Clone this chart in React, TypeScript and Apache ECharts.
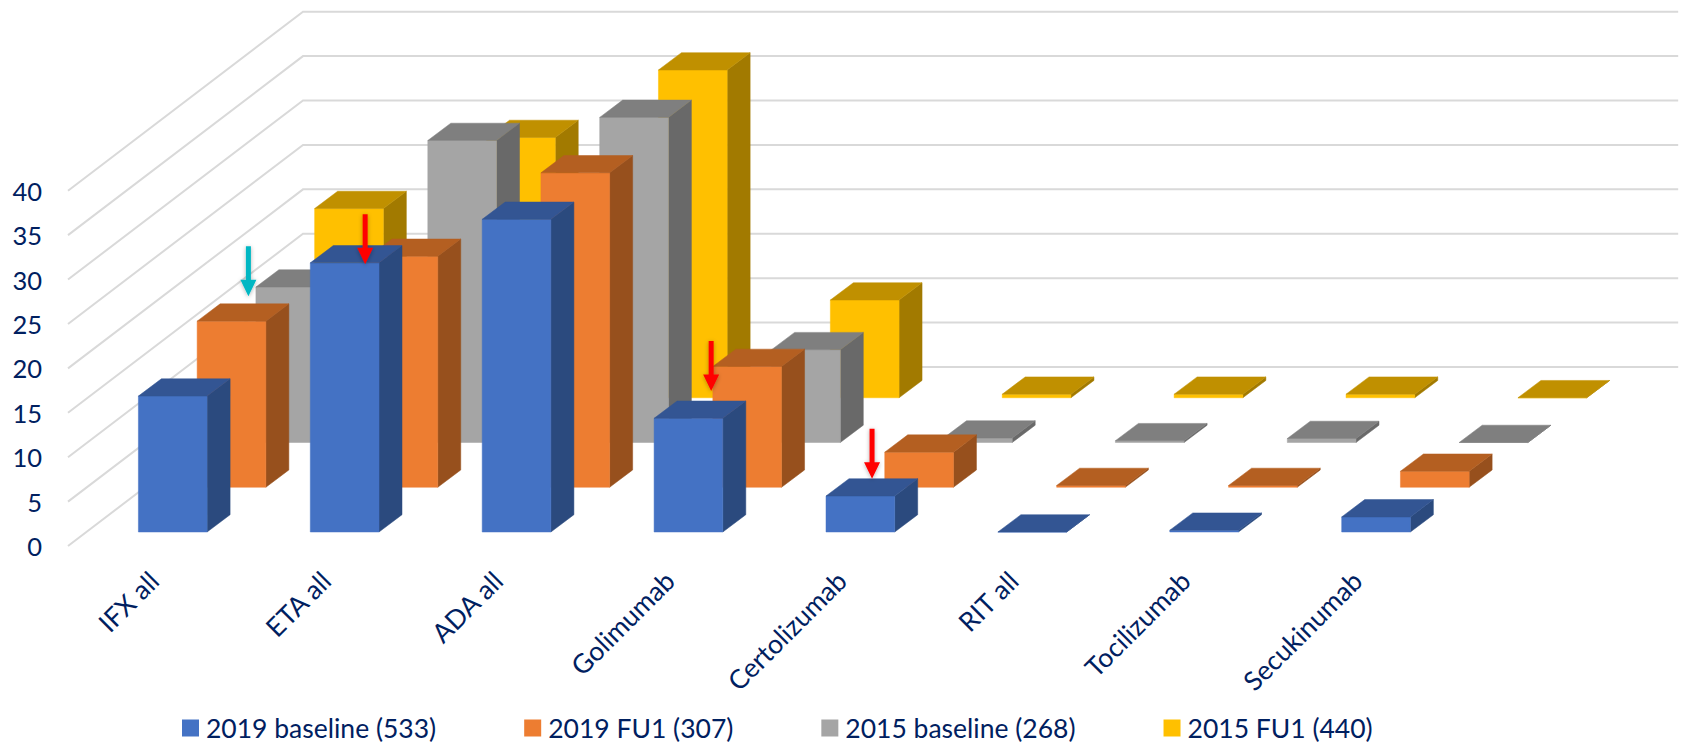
import React, { useEffect, useRef } from "react";
import * as echarts from "echarts";

// Biologic drugs along the front of the floor
const categories = ["IFX all", "ETA all", "ADA all", "Golimumab", "Certolizumab", "RIT all", "Tocilizumab", "Secukinumab"];

// Percentages per cohort
const baseline2019 = [15.3, 30.3, 35.2, 12.8, 4.05, 0, 0.2, 1.7];
const fu2019 = [18.7, 26, 35.4, 13.6, 3.95, 0.2, 0.2, 1.8];
const baseline2015 = [17.5, 34, 36.6, 10.45, 0.5, 0.2, 0.45, 0];
const fu2015 = [21.3, 29.3, 36.9, 11, 0.4, 0.4, 0.4, 0];

const seriesNames = ["2019 baseline (533)", "2019 FU1 (307)", "2015 baseline (268)", "2015 FU1 (440)"];
const yTicks = [0, 5, 10, 15, 20, 25, 30, 35, 40];

// Highlighted bars: category index, then row index front to back
const arrowCategory = [0, 1, 3, 4];
const arrowRow = [1, 0, 0, 0];
const arrowColor = ["#00B7C3", "#FF0000", "#FF0000", "#FF0000"];
const arrowNudgeX = [5.4, 9, 11.2, 0.2];
const arrowNudgeY = [-16.3, 10, -18.6, -8.7];

// Oblique projection of the box
const FLOOR_DX = 235;
const FLOOR_DY = 179;
const ROW_DX = FLOOR_DX / 4;
const ROW_DY = FLOOR_DY / 4;
const BAR_W = 68.7;
const BOX_DX = 23;
const BOX_DY = 17.3;
const GAP_X = 18.8;
const GAP_Y = 14;

const TEXT = "#002060";
const FONT = "Lato, 'Open Sans', sans-serif";

const palette = [
  { front: "#4472C4", side: "#2B4A7E", top: "#335593" },
  { front: "#ED7D31", side: "#97501D", top: "#B45F21" },
  { front: "#A5A5A5", side: "#696969", top: "#7F7F7F" },
  { front: "#FFC000", side: "#A27A00", top: "#C09000" },
];

const poly = (points: number[][], fill: string) => ({
  type: "polygon",
  shape: { points },
  style: { fill, stroke: fill, lineWidth: 0.5 },
});

const barRenderer = (row: number) => (_: any, api: any) => {
  const cat = api.value(0);
  const base = api.coord([cat, 0]);
  const head = api.coord([cat, api.value(1)]);
  const x0 = base[0] - BAR_W / 2 + GAP_X + row * ROW_DX;
  const x1 = x0 + BAR_W;
  const yb = base[1] - GAP_Y - row * ROW_DY;
  const yt = head[1] - GAP_Y - row * ROW_DY;
  const c = palette[row];
  return {
    type: "group",
    children: [
      poly([[x1, yb], [x1 + BOX_DX, yb - BOX_DY], [x1 + BOX_DX, yt - BOX_DY], [x1, yt]], c.side),
      poly([[x0, yb], [x1, yb], [x1, yt], [x0, yt]], c.front),
      poly([[x0, yt], [x1, yt], [x1 + BOX_DX, yt - BOX_DY], [x0 + BOX_DX, yt - BOX_DY]], c.top),
    ],
  };
};

// Back wall and side wall rules for every value tick
const wallRenderer = (params: any, api: any) => {
  const cs = params.coordSys;
  const y = api.coord([0, api.value(1)])[1];
  return {
    type: "polyline",
    shape: {
      points: [
        [cs.x, y],
        [cs.x + FLOOR_DX, y - FLOOR_DY],
        [cs.x + cs.width + FLOOR_DX, y - FLOOR_DY],
      ],
    },
    style: { fill: "none", stroke: "#D9D9D9", lineWidth: 2 },
  };
};

const rows = [baseline2019, fu2019, baseline2015, fu2015];

// Downward arrow whose tip sits relative to the top face of the given bar
const arrowRenderer = (_: any, api: any) => {
  const i = api.value(2);
  const row = arrowRow[i];
  const cat = api.value(0);
  const base = api.coord([cat, 0]);
  const head = api.coord([cat, api.value(1)]);
  const cx = base[0] + GAP_X + row * ROW_DX + BOX_DX / 2 + arrowNudgeX[i];
  const tip = head[1] - GAP_Y - row * ROW_DY - BOX_DY / 2 + arrowNudgeY[i];
  return {
    type: "polygon",
    shape: {
      points: [
        [cx - 2.5, tip - 50],
        [cx + 2.5, tip - 50],
        [cx + 2.5, tip - 16.5],
        [cx + 8, tip - 16.5],
        [cx, tip],
        [cx - 8, tip - 16.5],
        [cx - 2.5, tip - 16.5],
      ],
    },
    style: { fill: arrowColor[i], shadowBlur: 4, shadowColor: "rgba(0,0,0,0.3)", shadowOffsetY: 1 },
  };
};

export default function App() {
  const ref = useRef<HTMLDivElement>(null);

  useEffect(() => {
    document.body.style.margin = "0";
    const chart = echarts.init(ref.current!, undefined, { renderer: "svg" });
    chart.setOption({
      animation: false,
      backgroundColor: "#FFFFFF",
      textStyle: { fontFamily: FONT },
      grid: { left: 68, top: 190.7, width: 1375.2, height: 355.3, containLabel: false },
      xAxis: {
        type: "category",
        data: categories,
        axisLine: { show: false },
        axisTick: { show: false },
        splitLine: { show: false },
        axisLabel: { rotate: 45, interval: 0, margin: 30, fontSize: 26.5, color: TEXT, fontFamily: FONT },
      },
      yAxis: {
        type: "value",
        min: 0,
        max: 40,
        interval: 5,
        axisLine: { show: false },
        axisTick: { show: false },
        splitLine: { show: false },
        axisLabel: { margin: 26, fontSize: 25.5, color: TEXT, fontFamily: FONT },
      },
      legend: {
        data: seriesNames,
        left: 182,
        top: 714.5,
        padding: 0,
        icon: "rect",
        itemWidth: 17,
        itemHeight: 17,
        itemGap: 88,
        textStyle: { fontSize: 26.5, color: TEXT, fontFamily: FONT, padding: [0, 0, 0, 2] },
      },
      series: [
        {
          type: "custom",
          name: "wall",
          z: 1,
          silent: true,
          clip: false,
          renderItem: wallRenderer,
          encode: { x: 0, y: 1 },
          data: yTicks.map((t) => [0, t]),
        },
        ...rows.map((values, row) => ({
          type: "custom",
          name: seriesNames[row],
          z: 5 - row,
          clip: false,
          itemStyle: { color: palette[row].front },
          renderItem: barRenderer(row),
          encode: { x: 0, y: 1 },
          data: values.map((v, i) => [i, v]),
        })),
        {
          type: "custom",
          name: "arrows",
          z: 7,
          silent: true,
          clip: false,
          renderItem: arrowRenderer,
          encode: { x: 0, y: 1 },
          data: arrowCategory.map((c, i) => [c, rows[arrowRow[i]][c], i]),
        },
      ],
    });
    return () => chart.dispose();
  }, []);

  return <div ref={ref} style={{ position: "absolute", left: 0, top: 0, width: 1682, height: 743 }} />;
}
